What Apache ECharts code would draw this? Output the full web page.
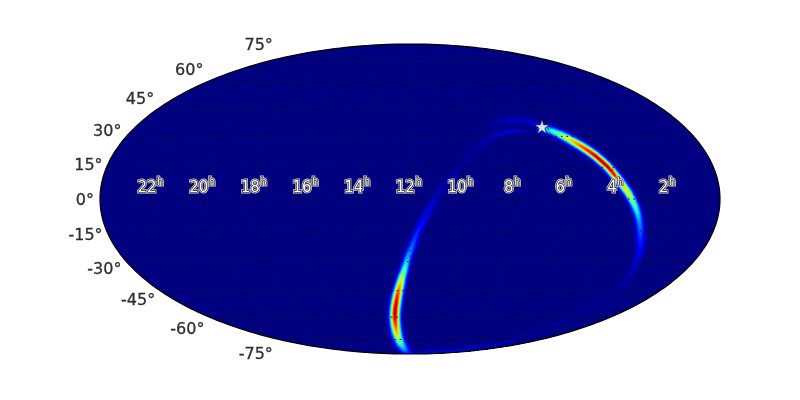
<!DOCTYPE html>
<html><head><meta charset="utf-8">
<style>html,body{margin:0;padding:0;background:#fff}#c{width:800px;height:400px}</style>
<script src="https://cdn.jsdelivr.net/npm/echarts@6/dist/echarts.min.js"></script>
</head><body><div id="c"></div>
<script>
// Tick labels
const decTicks = [75, 60, 45, 30, 15, 0, -15, -30, -45, -60, -75];
const raTicks = [22, 20, 18, 16, 14, 12, 10, 8, 6, 4, 2];

// Ridge of the sky-probability ring, in Mollweide plane units
const ridgeX = [2,-2,-6,-9.5,-12,-13.5,-14.5,-15,-15,-14.5,-13.5,-12.5,-11,-9.5,-8,-6,-4,-2,1,4,7,11,16,21,27,35,43,52,61,70,80,90,100,110,120,128,136,143,150,157,164,171,178,185,192,198,203,208,213,218,222,225,227.5,229,230,230.5,230.5,230,228.5,226,222,217,210,200,188,175,160,145,130,115,100,85,70,55,40,25,10];
const ridgeY = [-155,-153.5,-149.5,-144,-138,-132,-126,-120,-114,-108,-102,-96,-90,-84,-78,-72,-65,-58,-50,-42,-34,-26,-16,-7,3,14,24,35,45,53,61,66,69.5,71.5,72,71.5,70,67.5,64.5,61,57,53,48.5,43.5,37.5,32,26,20,13.5,6.5,-.5,-7,-14,-21,-28,-35,-42,-49,-57,-64,-73,-82,-90,-98,-106,-113,-120,-126,-132,-138,-143,-147,-150.5,-153,-154.5,-155,-155.5];
const ridgeValue = [.08,.16,.30,.46,.60,.74,.85,.93,.97,.96,.93,.88,.80,.70,.58,.47,.37,.30,.24,.19,.16,.13,.09,.07,.045,.032,.025,.022,.022,.026,.04,.06,.09,.13,.18,.24,.32,.42,.52,.64,.74,.83,.90,.95,.97,.96,.92,.82,.72,.64,.54,.44,.36,.29,.24,.20,.16,.12,.085,.06,.04,.03,.022,.018,.015,.015,.015,.015,.015,.018,.022,.03,.04,.07,.10,.10,.09];
const ridgeWidth = [2.8,3.2,3.3,3.3,3.3,3.3,3.3,3.3,3.3,3.3,3.3,3.2,3.1,3,2.9,2.8,2.8,2.8,2.8,2.8,2.8,2.8,2.9,3,3,3,3,3,3,3,3,3,3,2.9,2.8,2.8,2.8,2.8,2.8,2.8,2.8,2.8,2.8,2.8,2.8,2.8,2.8,2.8,2.8,2.8,2.8,2.8,2.8,2.8,2.9,3,3,3,3,3,3,3,3,3,3,3,3,3,3,3,3,3,3,3,2.5,2.5,2.5];

// Fainter secondary ridge just above the main one, left of the star
const wispX = [74,82,90,100,110,120,128];
const wispY = [71,74.5,77,78.5,78.5,77,74];
const wispValue = [.01,.02,.035,.05,.05,.05,.08];
const wispWidth = [2.5,2.5,2.8,3,3,3,2.8];

// Star marker, Mollweide plane units
const starX = [132];
const starY = [72.5];

// Plane half-extent used by the axes
const A = 310, B = 155;

function theta(decDeg) {
  const target = Math.PI * Math.sin(decDeg * Math.PI / 180);
  let t = decDeg * Math.PI / 180 * 0.8;
  for (let i = 0; i < 60; i++) {
    const d = 2 + 2 * Math.cos(2 * t);
    if (Math.abs(d) < 1e-6) break;
    t -= (2 * t + Math.sin(2 * t) - target) / d;
  }
  return t;
}
function project(raHours, decDeg) {
  const t = theta(decDeg);
  return [(12 - raHours) / 12 * A * Math.cos(t), B * Math.sin(t)];
}
function jet(v) {
  v = Math.max(0, Math.min(1, v));
  const p = (pts) => {
    for (let i = 1; i < pts.length; i++) {
      if (v <= pts[i][0]) {
        const f = (v - pts[i-1][0]) / (pts[i][0] - pts[i-1][0]);
        return pts[i-1][1] + f * (pts[i][1] - pts[i-1][1]);
      }
    }
    return pts[pts.length-1][1];
  };
  const r = p([[0,0],[.35,0],[.66,1],[.89,1],[1,.5]]);
  const g = p([[0,0],[.125,0],[.375,1],[.64,1],[.91,0],[1,0]]);
  const b = p([[0,.5],[.11,1],[.34,1],[.65,0],[1,0]]);
  return 'rgb(' + Math.round(r*255) + ',' + Math.round(g*255) + ',' + Math.round(b*255) + ')';
}

const edgeAngles = Array.from({length: 361}, (_, i) => i * Math.PI / 180);
function ellipsePoints(api) {
  return edgeAngles.map(a => api.coord([A * Math.cos(a), B * Math.sin(a)]));
}

const sigmaLevels = [3, 2.6, 2.25, 1.95, 1.7, 1.45, 1.25, 1.05, .85, .68, .5, .32, .15];

function bandSeries(xs, ys, vs, ws, baseZ) {
  const rows = xs.map((x, i) => [x, ys[i], vs[i], ws[i]]);
  return sigmaLevels.map((s, li) => ({
    type: 'custom', coordinateSystem: 'cartesian2d', silent: true, animation: false, z: baseZ + li,
    clip: false, data: rows, encode: {x: 0, y: 1},
    renderItem(params, api) {
      const i = params.dataIndex;
      if (i >= rows.length - 1) return null;
      const P = k => api.coord([rows[k][0], rows[k][1]]);
      const normal = k => {
        const a = P(Math.max(0, k - 1)), b = P(Math.min(rows.length - 1, k + 1));
        const dx = b[0] - a[0], dy = b[1] - a[1], l = Math.hypot(dx, dy) || 1;
        return [-dy / l, dx / l];
      };
      const p0 = P(i), p1 = P(i + 1), n0 = normal(i), n1 = normal(i + 1);
      const w0 = rows[i][3] * s, w1 = rows[i + 1][3] * s;
      const f = Math.exp(-s * s / 2);
      const fill = {type: 'linear', global: true, x: p0[0], y: p0[1], x2: p1[0], y2: p1[1],
        colorStops: [{offset: 0, color: jet(rows[i][2] * f)}, {offset: 1, color: jet(rows[i + 1][2] * f)}]};
      return {
        type: 'group',
        clipPath: {type: 'polygon', shape: {points: ellipsePoints(api)}},
        children: [{
          type: 'polygon',
          shape: {points: [
            [p0[0] + n0[0] * w0, p0[1] + n0[1] * w0],
            [p1[0] + n1[0] * w1, p1[1] + n1[1] * w1],
            [p1[0] - n1[0] * w1, p1[1] - n1[1] * w1],
            [p0[0] - n0[0] * w0, p0[1] - n0[1] * w0]
          ]},
          style: {fill: fill, stroke: fill, lineWidth: 0.6}
        }]
      };
    }
  }));
}

const parallels = decTicks.map(d => ({
  type: 'line', silent: true, animation: false, showSymbol: false, z: 40,
  lineStyle: {color: '#000', width: 1, type: [1.5, 4], opacity: 1},
  data: [project(24, d), project(0, d)]
}));
const decSamples = [];
for (let d = -75; d <= 75; d += 2.5) decSamples.push(d);
const meridians = raTicks.map(h => ({
  type: 'line', silent: true, animation: false, showSymbol: false, z: 40,
  lineStyle: {color: '#000', width: 1, type: [1.5, 4], opacity: 0.7},
  data: decSamples.map(d => project(h, d))
}));

const decLabelOffsetY = [-12.5, -9.5, -7, -4.5, -1.5, 2, 5.5, 8, 10.5, 13, 15.5];
const decLabelOffsetX = [-6, -6, -6, -5, -4, -6, -4, -5, -5, -5, -6];

const digitFont = '15px "DejaVu Sans"', supFont = '10px "DejaVu Sans"';
function haloText(x, y, text, font) {
  const base = {text, x, y, font, align: 'left', verticalAlign: 'middle'};
  return [
    {type: 'text', style: {...base, fill: '#ccc', stroke: '#ccc', lineWidth: 2.8}},
    {type: 'text', style: {...base, fill: '#fff', stroke: '#000', lineWidth: 1.2}}
  ];
}

const series = [
  {
    type: 'custom', coordinateSystem: 'cartesian2d', silent: true, animation: false, z: 1, clip: false,
    data: [[0, 0]], encode: {x: 0, y: 1},
    renderItem(params, api) {
      return {type: 'polygon', shape: {points: ellipsePoints(api)}, style: {fill: jet(0)}};
    }
  },
  ...bandSeries(ridgeX, ridgeY, ridgeValue, ridgeWidth, 5),
  ...bandSeries(wispX, wispY, wispValue, wispWidth, 20),
  ...parallels,
  ...meridians,
  {
    type: 'custom', coordinateSystem: 'cartesian2d', silent: true, animation: false, z: 45, clip: false,
    data: [[0, 0]], encode: {x: 0, y: 1},
    renderItem(params, api) {
      return {type: 'polygon', shape: {points: ellipsePoints(api)}, style: {fill: 'none', stroke: '#000', lineWidth: 1.2}};
    }
  },
  {
    type: 'custom', coordinateSystem: 'cartesian2d', silent: true, animation: false, z: 50, clip: false,
    data: raTicks.map(h => [...project(h, 0), h]), encode: {x: 0, y: 1},
    renderItem(params, api) {
      const h = String(api.value(2));
      const c = api.coord([api.value(0), api.value(1)]);
      const dw = h.length * 9.54;
      const left = c[0] - 1.5 - (dw + 6.3) / 2;
      return {type: 'group', children: [
        ...haloText(left, c[1] - 11, h, digitFont),
        ...haloText(left + dw + 0.5, c[1] - 17, 'h', supFont)
      ]};
    }
  },
  {
    type: 'scatter', silent: true, animation: false, z: 50, symbolSize: 0,
    data: decTicks.map((d, i) => ({
      value: [-A * Math.cos(theta(d)), B * Math.sin(theta(d))],
      label: {
        show: true, position: 'left', distance: 0, offset: [decLabelOffsetX[i], decLabelOffsetY[i]],
        formatter: d + '°', fontFamily: 'DejaVu Sans', fontSize: 16, color: '#000',
        textBorderColor: '#000', textBorderWidth: 0.3
      }
    }))
  },
  {
    type: 'scatter', silent: true, animation: false, z: 55,
    symbol: 'path://M50 0 L61.8 36.2 L100 36.2 L69.1 58.6 L80.9 95.1 L50 72.7 L19.1 95.1 L30.9 58.6 L0 36.2 L38.2 36.2 Z',
    symbolSize: 15,
    itemStyle: {color: '#fff', borderColor: '#000', borderWidth: 0.8},
    data: starX.map((x, i) => [x, starY[i]])
  }
];

const chart = echarts.init(document.getElementById('c'), null, {renderer: 'canvas'});
chart.setOption({
  backgroundColor: '#fff',
  animation: false,
  grid: {left: 100, right: 80, top: 44, bottom: 46},
  xAxis: {type: 'value', min: -A, max: A, show: false},
  yAxis: {type: 'value', min: -B, max: B, show: false},
  series: series
});
</script></body></html>
